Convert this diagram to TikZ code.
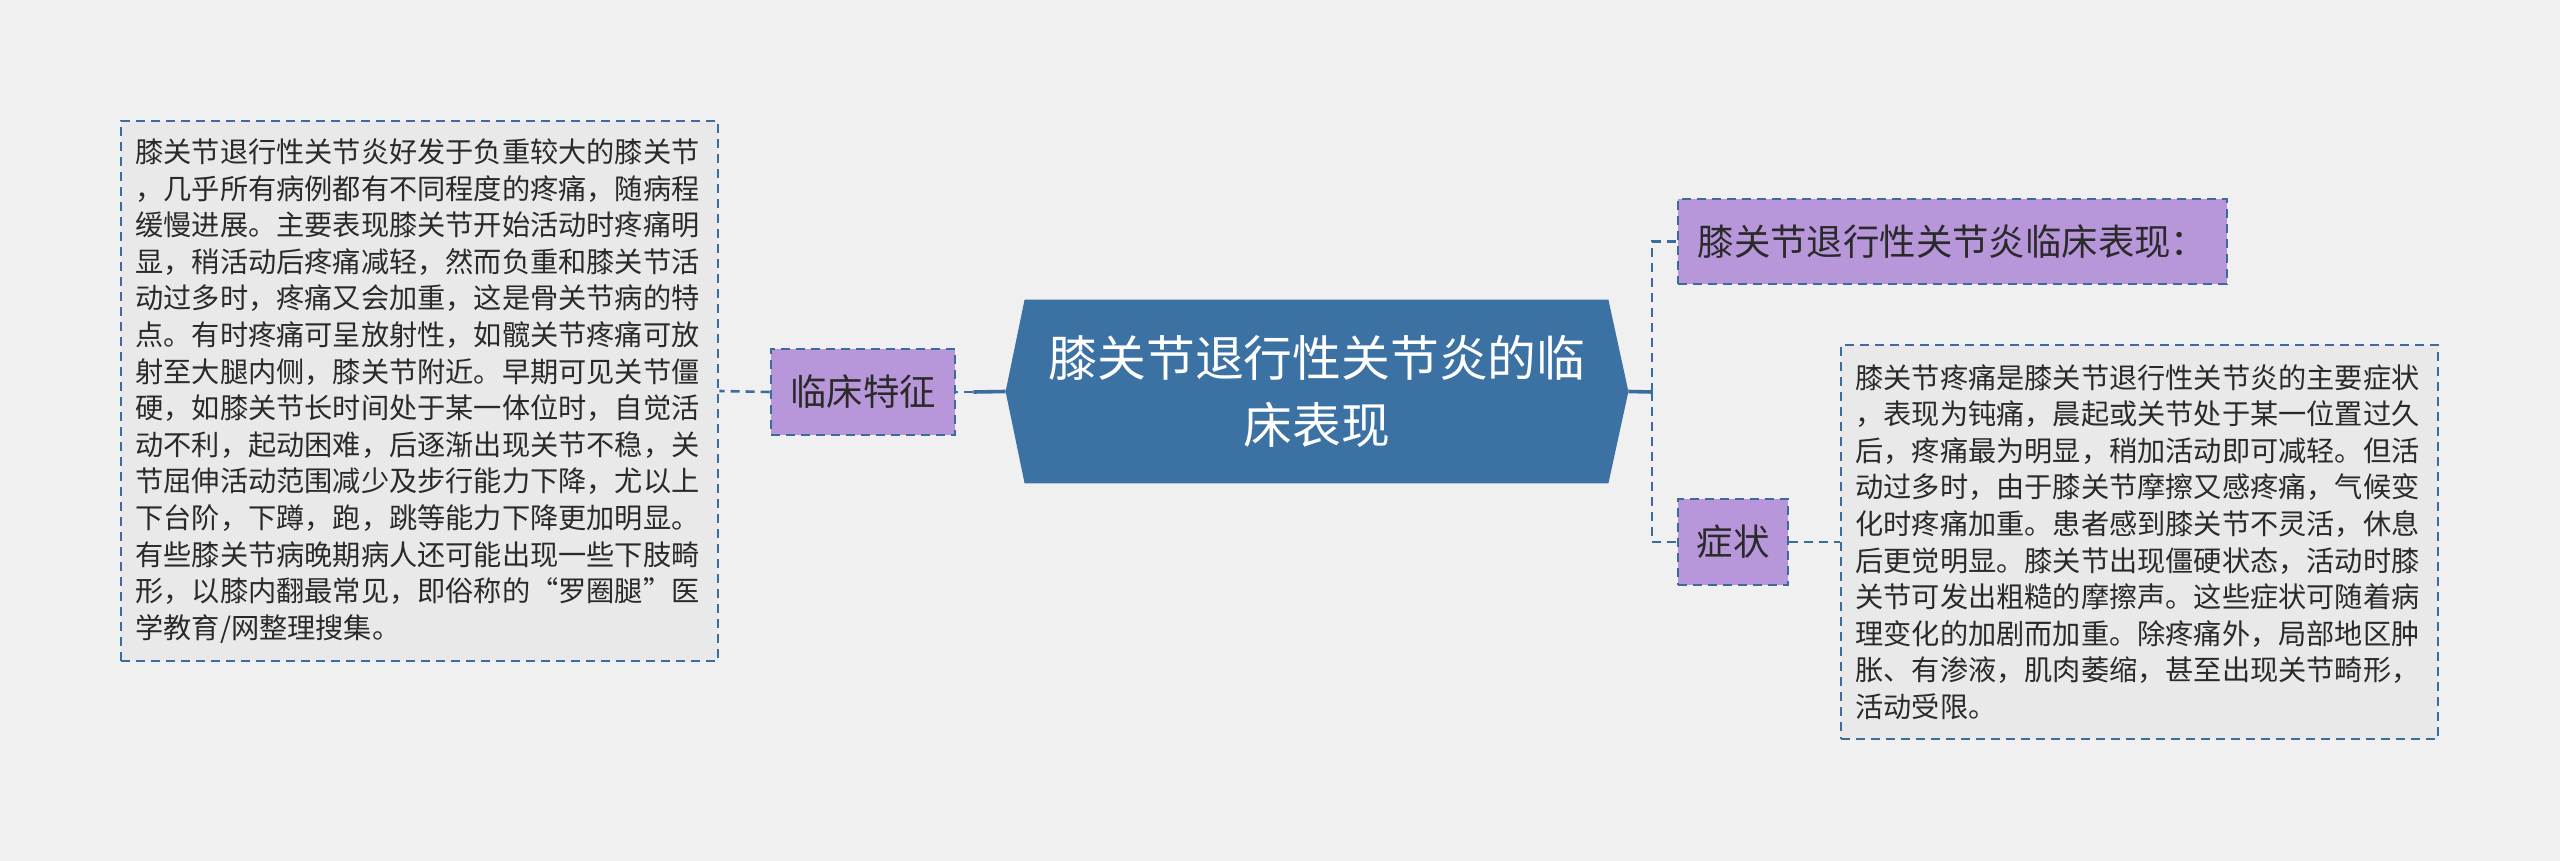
\documentclass[tikz,border=0pt]{standalone}
\usepackage{fontspec}
\setmainfont{Noto Sans CJK SC}
\usetikzlibrary{calc}
\pgfdeclarelayer{bg}
\pgfsetlayers{bg,main}
\definecolor{bgc}{HTML}{F0F0F0}
\definecolor{boxfill}{HTML}{E9E9E9}
\definecolor{lineblue}{HTML}{3A6C9F}
\definecolor{hexblue}{HTML}{3C71A4}
\definecolor{purp}{HTML}{B796D9}
\definecolor{txt}{HTML}{2A2A2A}
\tikzset{
  dashline/.style={draw=lineblue, line width=1.3pt, dash pattern=on 4.5pt off 3pt},
  solidline/.style={draw=lineblue, line width=1.8pt},
  textbox/.style={fill=boxfill, dashline, text=txt, align=left, text width=284pt,
    inner sep=0pt, minimum width=298.5pt, font=\fontsize{14.1}{18.3}\selectfont},
  purplebox/.style={fill=purp, dashline, text=txt, inner sep=0pt,
    minimum height=43pt, font=\fontsize{18.2}{22}\selectfont},
  centernode/.style={inner sep=0pt, minimum width=311pt, minimum height=91.5pt,
    text=white, align=center, font=\fontsize{24.4}{33.5}\selectfont}
}
\begin{document}
\begin{tikzpicture}[x=0.5pt,y=-0.5pt]
\useasboundingbox (0,0) rectangle (2560,861);

% nodes
\node[textbox, minimum height=270pt] (lbox) at (419.5,391) {膝关节退行性关节炎好发于负重较大的膝关节\\，几乎所有病例都有不同程度的疼痛，随病程\\缓慢进展。主要表现膝关节开始活动时疼痛明\\显，稍活动后疼痛减轻，然而负重和膝关节活\\动过多时，疼痛又会加重，这是骨关节病的特\\点。有时疼痛可呈放射性，如髋关节疼痛可放\\射至大腿内侧，膝关节附近。早期可见关节僵\\硬，如膝关节长时间处于某一体位时，自觉活\\动不利，起动困难，后逐渐出现关节不稳，关\\节屈伸活动范围减少及步行能力下降，尤以上\\下台阶，下蹲，跑，跳等能力下降更加明显。\\有些膝关节病晚期病人还可能出现一些下肢畸\\形，以膝内翻最常见，即俗称的“罗圈腿”医\\学教育/网整理搜集。};

\node[purplebox, minimum width=92pt] (lc) at (863,392) {临床特征};

\node[centernode] (c) at (1317,391.5) {膝关节退行性关节炎的临\\床表现};

\node[purplebox, minimum width=274.5pt, minimum height=42.5pt] (tr) at (1952.5,241.5) {膝关节退行性关节炎临床表现：};

\node[purplebox, minimum width=55pt] (zz) at (1733,542) {症状};

\node[textbox, minimum height=197pt] (rbox) at (2139.5,542) {膝关节疼痛是膝关节退行性关节炎的主要症状\\，表现为钝痛，晨起或关节处于某一位置过久\\后，疼痛最为明显，稍加活动即可减轻。但活\\动过多时，由于膝关节摩擦又感疼痛，气候变\\化时疼痛加重。患者感到膝关节不灵活，休息\\后更觉明显。膝关节出现僵硬状态，活动时膝\\关节可发出粗糙的摩擦声。这些症状可随着病\\理变化的加剧而加重。除疼痛外，局部地区肿\\胀、有渗液，肌肉萎缩，甚至出现关节畸形，\\活动受限。};

\begin{pgfonlayer}{bg}
\fill[bgc] (0,0) rectangle (2560,861);
\fill[hexblue] (c.west) -- ($(c.north west)+(19,0)$) -- ($(c.north east)+(-20,0)$) -- (c.east)
  -- ($(c.south east)+(-20,0)$) -- ($(c.south west)+(19,0)$) -- cycle;
\end{pgfonlayer}

% connectors
\coordinate (j) at (1652,392);
\coordinate (lj) at ($(lc.east)+(17,0)$);
\draw[solidline] (c.west) -- (lj);
\draw[dashline] (lj) -- (lc.east);
\draw[dashline] (lc.west) -- (lbox.east);
\draw[solidline] (c.east) -- (j);
\draw[dashline] (j) |- (tr.west);
\draw[dashline] (j) |- (zz.west);
\draw[dashline] (zz.east) -- (rbox.west);
\end{tikzpicture}
\end{document}
